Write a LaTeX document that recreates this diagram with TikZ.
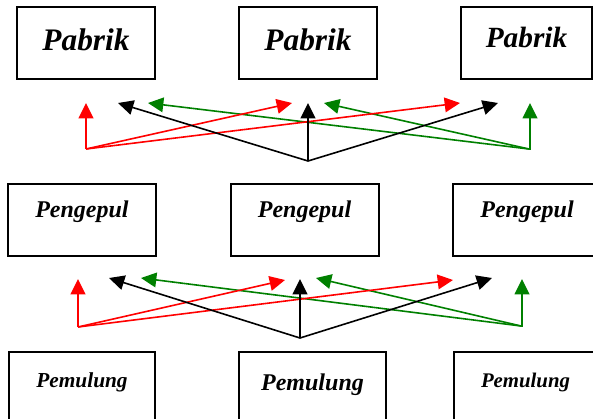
\documentclass[tikz,border=0pt]{standalone}
\usepackage{fontspec}
\setmainfont{Liberation Serif}
\usetikzlibrary{arrows.meta}
\definecolor{flowred}{RGB}{255,0,0}
\definecolor{flowgreen}{RGB}{0,128,0}
\begin{document}
\begin{tikzpicture}[x=0.75pt,y=-0.75pt,
  box/.style={draw, line width=1.5pt, inner sep=0pt, font=\bfseries\itshape},
  toprow/.style={box, minimum width=103.5pt, minimum height=54pt},
  midrow/.style={box, minimum width=111pt, minimum height=54pt,
    text height=12pt, text depth=16.5pt},
  lowrow/.style={box, minimum height=58.5pt},
  flow/.style={line width=1.2pt, -{Triangle[length=11.5pt,width=11pt]}},
]
\useasboundingbox (0,0) rectangle (593,418);
\clip (0,0) rectangle (593,418);

% factories
\node[toprow, text height=18pt, text depth=7.5pt,
  font=\bfseries\itshape\fontsize{23.5}{28}\selectfont] (pab1) at (86,43) {Pabrik};
\node[toprow, text height=18pt, text depth=7.5pt,
  font=\bfseries\itshape\fontsize{23.5}{28}\selectfont] (pab2) at (308,43) {Pabrik};
\node[toprow, minimum width=98.25pt, text height=16pt, text depth=10pt,
  font=\bfseries\itshape\fontsize{22}{26}\selectfont] (pab3) at (526.5,43) {Pabrik};

% collectors
\node[midrow, font=\bfseries\itshape\fontsize{18}{22}\selectfont] (pen1) at (82,220) {Pengepul};
\node[midrow, font=\bfseries\itshape\fontsize{18}{22}\selectfont] (pen2) at (304.5,220) {Pengepul};
\node[midrow, font=\bfseries\itshape\fontsize{18}{22}\selectfont] (pen3) at (527,220) {Pengepul};

% scavengers
\node[lowrow, minimum width=109.5pt, text height=12pt, text depth=18pt,
  font=\bfseries\itshape\fontsize{16}{20}\selectfont] (pem1) at (82,391) {Pemulung};
\node[lowrow, minimum width=110.25pt, text height=12pt, text depth=13.5pt,
  font=\bfseries\itshape\fontsize{18}{22}\selectfont] (pem2) at (312.5,391) {Pemulung};
\node[lowrow, minimum width=107.25pt, text height=12pt, text depth=18pt,
  font=\bfseries\itshape\fontsize{15.6}{19}\selectfont] (pem3) at (525.5,391) {Pemulung};

% upper fan of arrows
\coordinate (rs1) at (86,149);
\coordinate (bs1) at (308,161);
\coordinate (gs1) at (529,149);
\coordinate (rt1a) at (86,103);
\coordinate (rt1b) at (292,103);
\coordinate (rt1c) at (460,103);
\coordinate (bt1a) at (118,103);
\coordinate (bt1b) at (308,103);
\coordinate (bt1c) at (498,103);
\coordinate (gt1a) at (148,103);
\coordinate (gt1b) at (324,103);
\coordinate (gt1c) at (530,103);

\draw[flow, flowgreen] (gs1) -- (gt1a);
\draw[flow, flowgreen] (gs1) -- (gt1b);
\draw[flow, flowgreen] (gs1) -| (gt1c);
\draw[flow, flowred] (rs1) -- (rt1a);
\draw[flow, flowred] (rs1) -- (rt1b);
\draw[flow, flowred] (rs1) -- (rt1c);
\draw[flow, black] (bs1) -- (bt1a);
\draw[flow, black] (bs1) -- (bt1b);
\draw[flow, black] (bs1) -- (bt1c);

% lower fan of arrows
\coordinate (rs2) at (78,327);
\coordinate (bs2) at (300,338);
\coordinate (gs2) at (521,326);
\coordinate (rt2a) at (78,279);
\coordinate (rt2b) at (285,280);
\coordinate (rt2c) at (453,280);
\coordinate (bt2a) at (109,278);
\coordinate (bt2b) at (300,279);
\coordinate (bt2c) at (492,278);
\coordinate (gt2a) at (141,278);
\coordinate (gt2b) at (316,278);
\coordinate (gt2c) at (522,279);

\draw[flow, flowgreen] (gs2) -- (gt2a);
\draw[flow, flowgreen] (gs2) -- (gt2b);
\draw[flow, flowgreen] (gs2) -| (gt2c);
\draw[flow, flowred] (rs2) -- (rt2a);
\draw[flow, flowred] (rs2) -- (rt2b);
\draw[flow, flowred] (rs2) -- (rt2c);
\draw[flow, black] (bs2) -- (bt2a);
\draw[flow, black] (bs2) -- (bt2b);
\draw[flow, black] (bs2) -- (bt2c);
\end{tikzpicture}
\end{document}
